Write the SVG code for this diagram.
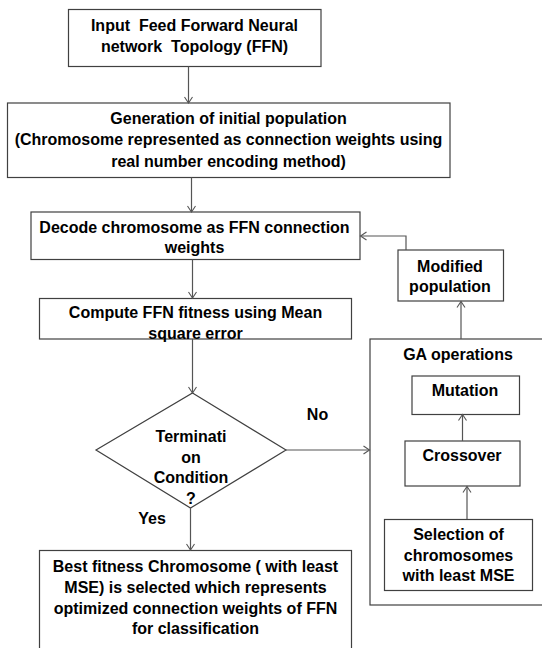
<svg xmlns="http://www.w3.org/2000/svg" width="542" height="648" viewBox="0 0 542 648">
<defs>
<marker id="arr" markerUnits="userSpaceOnUse" markerWidth="10" markerHeight="10" refX="6" refY="4" orient="auto" overflow="visible">
<path d="M0,0 L6,4 L0,8" fill="none" stroke="#555" stroke-width="1.1"/>
</marker>
</defs>
<style>
.box{fill:#fff;stroke:#404040;stroke-width:1.2}
.t{font-family:"Liberation Sans",Arial,sans-serif;font-weight:bold;font-size:16px;fill:#000;text-anchor:middle;white-space:pre}
.c{fill:none;stroke:#555;stroke-width:1.2;marker-end:url(#arr)}
</style>
<rect width="542" height="648" fill="#fff"/>
<g id="n1">
<rect class="box" x="68.5" y="9.5" width="252.5" height="57"/>
<text class="t" x="194.5" y="30.5">Input  Feed Forward Neural</text>
<text class="t" x="194.5" y="51.5">network  Topology (FFN)</text>
</g>
<g id="n2">
<rect class="box" x="7.5" y="103" width="442.5" height="74.5"/>
<text class="t" x="228.5" y="123.5">Generation of initial population</text>
<text class="t" x="228.5" y="145">(Chromosome represented as connection weights using</text>
<text class="t" x="228.5" y="167">real number encoding method)</text>
</g>
<g id="n3">
<rect class="box" x="31" y="212" width="329" height="47.5"/>
<text class="t" x="194.5" y="232.5">Decode chromosome as FFN connection</text>
<text class="t" x="194.5" y="253">weights</text>
</g>
<g id="n4">
<rect class="box" x="39.5" y="298.5" width="312" height="40.5"/>
<text class="t" x="195.5" y="318">Compute FFN fitness using Mean</text>
<text class="t" x="195.5" y="339">square error</text>
</g>
<g id="n5">
<polygon class="box" points="192.5,393 286,450 190.5,508 96,450"/>
<text class="t" x="191" y="442">Terminati</text>
<text class="t" x="191" y="463">on</text>
<text class="t" x="191" y="483">Condition</text>
<text class="t" x="191" y="503.5">?</text>
</g>
<g id="lbl-no"><text class="t" x="317.5" y="420">No</text></g>
<g id="lbl-yes"><text class="t" x="152" y="523.5">Yes</text></g>
<g id="n6">
<rect class="box" x="39.5" y="550.5" width="312" height="100"/>
<text class="t" x="195.5" y="572">Best fitness Chromosome ( with least</text>
<text class="t" x="195.5" y="592.5">MSE) is selected which represents</text>
<text class="t" x="195.5" y="613.5">optimized connection weights of FFN</text>
<text class="t" x="195.5" y="634">for classification</text>
</g>
<g id="n7">
<rect class="box" x="398" y="250" width="105.5" height="51"/>
<text class="t" x="450" y="272">Modified</text>
<text class="t" x="450" y="292">population</text>
</g>
<g id="n8">
<rect class="box" x="370" y="339" width="190" height="266"/>
<text class="t" x="458" y="359.5">GA operations</text>
</g>
<g id="n9">
<rect class="box" x="412" y="376" width="107.5" height="38.5"/>
<text class="t" x="465" y="396">Mutation</text>
</g>
<g id="n10">
<rect class="box" x="405" y="441" width="115" height="45"/>
<text class="t" x="462" y="461">Crossover</text>
</g>
<g id="n11">
<rect class="box" x="384.5" y="519.5" width="148" height="71"/>
<text class="t" x="458.5" y="540">Selection of</text>
<text class="t" x="458.5" y="561">chromosomes</text>
<text class="t" x="458.5" y="581">with least MSE</text>
</g>
<g id="connectors">
<line class="c" x1="188.5" y1="66.5" x2="188.5" y2="103"/>
<line class="c" x1="191.5" y1="177.5" x2="191.5" y2="212"/>
<line class="c" x1="192.5" y1="259.5" x2="192.5" y2="298"/>
<line class="c" x1="192.5" y1="339" x2="192.5" y2="393"/>
<line class="c" x1="286" y1="450" x2="369.5" y2="450"/>
<line class="c" x1="190.5" y1="508" x2="190.5" y2="550"/>
<polyline class="c" points="406,250 406,236 360.5,236"/>
<line class="c" x1="461" y1="339" x2="461" y2="301.5"/>
<line class="c" x1="462.5" y1="441" x2="462.5" y2="414.5"/>
<line class="c" x1="467" y1="519" x2="467" y2="486.5"/>
</g>
</svg>
